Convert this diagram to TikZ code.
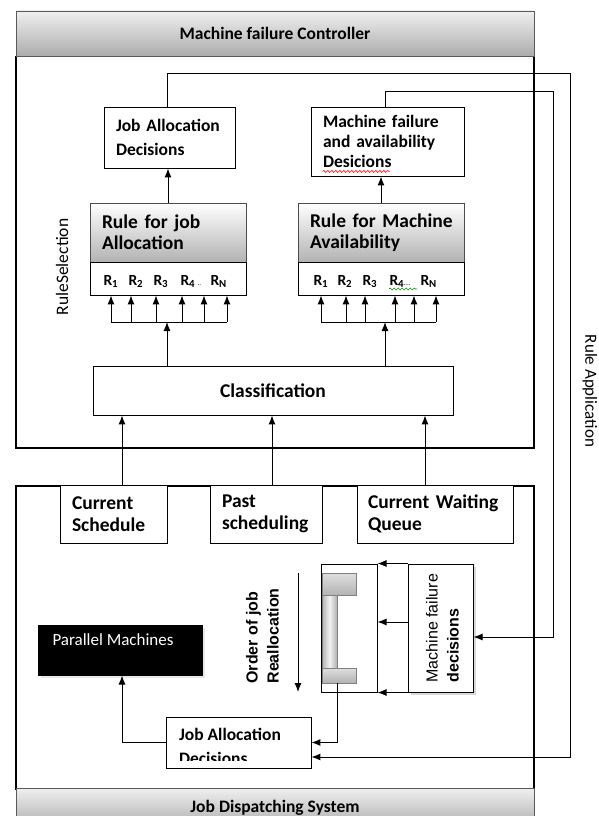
\documentclass[tikz,border=0pt]{standalone}
\usepackage{fontspec}
\setmainfont{Carlito}
\newfontfamily\arialfam{Liberation Sans}
\usetikzlibrary{shapes, calc, arrows, arrows.meta, positioning, shadows, decorations.pathmorphing}

\tikzset{
  txtbox/.style={draw, fill=white, line width=0.9pt, inner xsep=12pt, inner ysep=0pt, align=left},
  hdrbox/.style={draw=gray!70!black, line width=0.9pt, top color=gray!12, bottom color=gray!65, font={\fontsize{17.5}{20}\selectfont\bfseries}},
  rulebox/.style={draw=gray!60!black, line width=0.9pt, top color=white, bottom color=gray!60, inner xsep=12pt, inner ysep=0pt, align=left, font={\fontsize{19.5}{21}\selectfont\bfseries}},
  frame/.style={line width=2.6pt, black},
  rlab/.style={font={\fontsize{15.5}{18}\selectfont\bfseries}, inner sep=0pt, anchor=base west},
  squig/.style={decorate, decoration={snake, amplitude=1pt, segment length=4pt}, line width=0.6pt},
  bigbf/.style={font={\fontsize{19.5}{22}\selectfont\bfseries}},
  midbf/.style={font={\fontsize{17.5}{24}\selectfont\bfseries}},
}

\begin{document}
\begin{tikzpicture}[>={Latex[length=9pt, width=7pt]}, x=1pt, y=-1pt, line width=1pt, font={\fontsize{17.5}{24}\selectfont}]
\useasboundingbox (0,0) rectangle (598,816);

% frames and headers
\draw[frame] (16,56) -- (16,448) -- (534,448) -- (534,56);
\draw[frame] (16,790) -- (16,486) -- (534,486) -- (534,790);
\node[hdrbox, minimum width=518, minimum height=45] (mfc) at (275,33.5) {Machine failure Controller};
\node[hdrbox, minimum width=518, minimum height=40] (jds) at (275,808) {Job Dispatching System};

% rule selection part
\node[txtbox, midbf, text width=107, minimum height=61] (jad1) at (169.5,137.5) {Job Allocation\\Decisions};
\node[txtbox, midbf, font={\fontsize{17.5}{20}\selectfont\bfseries}, text width=129, minimum height=69] (mfd1) at (387.5,141.5) {Machine failure\\and availability\\Desicions};
\draw[squig, red] ([shift={(12pt,5pt)}]mfd1.south west) -- ++(67,0);

\node[rulebox, text width=132, minimum height=59] (rjob) at (168,232.5) {Rule for job\\Allocation};
\node[rulebox, text width=142, minimum height=59] (rma) at (381,232.5) {\mbox{Rule for Machine}\\Availability};
\node[txtbox, minimum width=156, minimum height=33] (rjobr) at (168,278.5) {};
\node[txtbox, minimum width=166, minimum height=33] (rmar) at (381,278.5) {};

\foreach \x/\t [count=\i] in {103/1,128/2,153/3,180/4,210/N}
  \node[rlab] (rl\i) at (\x,285) {R\textsubscript{\t}};
\node[rlab, font=\scriptsize] (rldots) at (197,285) {..};
\foreach \x/\t [count=\i] in {313/1,337/2,362/3,389/4,420/N}
  \node[rlab] (rr\i) at (\x,285) {R\textsubscript{\t}};
\node[rlab, font=\scriptsize] (rrdots) at (403,285) {....};
\draw[squig, green!60!black] (389,289) -- (417,289);

\draw[->] (rjob.north) -- (rjob.north |- jad1.south);
\draw[->] (rma.north) -- (rma.north |- mfd1.south);

\node[txtbox, bigbf, align=center, minimum width=360, minimum height=49] (cls) at (273,390.5) {Classification};

\coordinate (busl) at (167,322);
\coordinate (busr) at (385,322);
\draw (111,0 |- busl) -- (227,0 |- busl);
\draw (321,0 |- busr) -- (436,0 |- busr);
\foreach \x in {111,131,156,182,204,227}
  \draw[->] (\x,0 |- busl) -- (\x,0 |- rjobr.south);
\foreach \x in {321,346,365,395,414,436}
  \draw[->] (\x,0 |- busr) -- (\x,0 |- rmar.south);
\draw[->] (cls.north -| busl) -- (busl);
\draw[->] (cls.north -| busr) -- (busr);

\node[rotate=90] (rsel) at (62,267) {RuleSelection};
\node[rotate=-90, font={\fontsize{17}{20}\selectfont}] (rapp) at (590,391) {Rule Application};

% job dispatching part
\node[txtbox, bigbf, text width=83, minimum height=58] (cs) at (113.5,514) {Current\\Schedule};
\node[txtbox, bigbf, text width=88, minimum height=58] (ps) at (266,514) {Past\\scheduling};
\node[txtbox, bigbf, inner xsep=11pt, text width=134, minimum height=58] (cwq) at (435,514) {\mbox{Current Waiting}\\Queue};
\draw[->] (122,0 |- cs.north) -- (122,0 |- cls.south);
\draw[->] (272,0 |- ps.north) -- (272,0 |- cls.south);
\draw[->] (425,0 |- cwq.north) -- (425,0 |- cls.south);

\node[draw, fill=black, minimum width=164, minimum height=50, drop shadow={fill=gray!35, shadow xshift=3pt, shadow yshift=-3pt}] (pm) at (120,650) {};
\node[anchor=west, text=white, inner sep=0pt, font={\fontsize{17}{20}\selectfont}] (pmt) at (52,640) {Parallel Machines};

\node[txtbox, minimum width=145, minimum height=51] (jad2) at (238.5,742.5) {};
\begin{scope}
  \clip ([shift={(1pt,8pt)}]jad2.south west) rectangle ([shift={(-1pt,-1pt)}]jad2.north east);
  \node[anchor=north west, inner sep=0pt, align=left, midbf] (jad2t) at ([shift={(13pt,-11pt)}]jad2.north west) {Job Allocation\\Decisions};
\end{scope}

\node[draw, minimum width=56, minimum height=128, inner sep=0pt] (ib) at (349,628) {};
\shade[draw=gray, top color=gray!25, bottom color=gray!60, line width=0.6pt] (322,573) rectangle (356,595);
\shade[draw=gray, left color=gray!60, right color=gray!60, middle color=gray!10, line width=0.6pt] (322,595) rectangle (337,668);
\shade[draw=gray, top color=gray!25, bottom color=gray!60, line width=0.6pt] (322,668) rectangle (356,683);
\coordinate (ibb) at (337,683);

\node[draw, fill=white, minimum width=65, minimum height=128, inner sep=0pt, drop shadow={fill=gray!60, shadow xshift=3pt, shadow yshift=-3pt}] (mfd2) at (440.5,628) {};
\node[rotate=90, anchor=west, inner sep=0pt, align=left, font={\arialfam\fontsize{16}{21}\selectfont}] (mfd2t) at (442.5,683) {Machine failure\\\textbf{decisions}};

\node[rotate=90, anchor=west, inner sep=0pt, align=left, font={\arialfam\fontsize{16}{21}\selectfont\bfseries}] (ord) at (262.5,684) {Order of job\\Reallocation};
\coordinate (ordtop) at (298,573);
\coordinate (ordbot) at (298,692);
\draw[->] (ordtop) -- (ordbot);

\draw[->] (mfd2.north west) -- (ib.north east);
\draw[->] ([yshift=6pt]mfd2.west) -- ([yshift=6pt]ib.east);
\draw[->] (mfd2.south west) -- (ib.south east);

\draw[->] (ibb) |- (jad2.east);
\draw[->] (jad2.west) -| ([xshift=2pt]pm.south);

% rule application lines
\coordinate (ra) at (570,73);
\coordinate (rb) at (553,91);
\draw[->] ([xshift=-2.5pt]jad1.north) |- (ra) |- ([yshift=-14.5pt]jad2.east);
\draw[->] ([xshift=-2.5pt]mfd1.north) |- (rb) |- ([yshift=-9pt]mfd2.east);
\end{tikzpicture}
\end{document}
